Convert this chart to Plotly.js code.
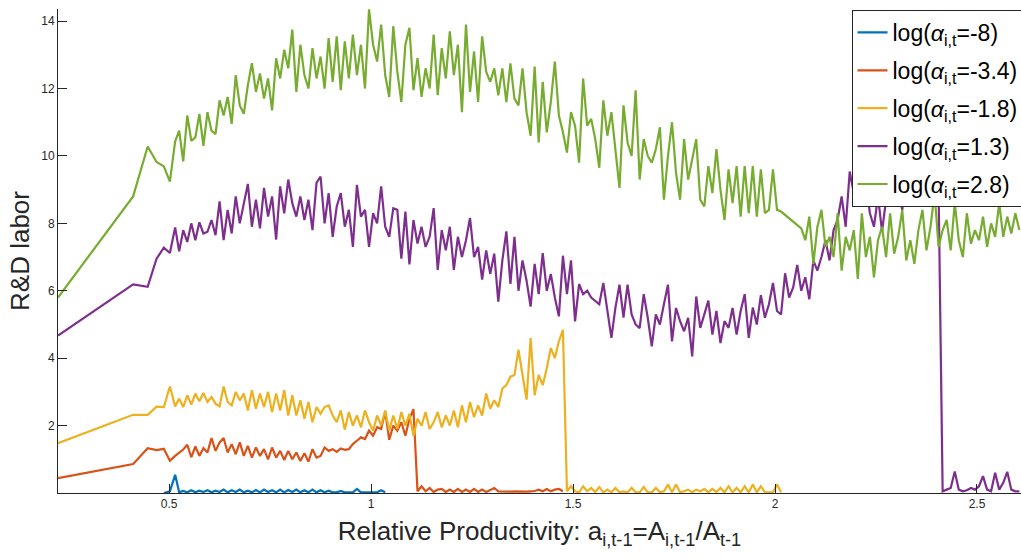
<!DOCTYPE html>
<html>
<head>
<meta charset="utf-8">
<script src="https://cdn.plot.ly/plotly-3.0.1.min.js"></script>
<style>html,body{margin:0;padding:0;background:#fff;}#chart{width:1021px;height:559px;}</style>
</head>
<body>
<div id="chart"></div>
<script>
// Shared x grid (relative productivity)
const xGrid = [
  0.225, 0.411, 0.447, 0.469, 0.487, 0.502,
  0.515, 0.525, 0.535, 0.545, 0.555, 0.565, 0.575, 0.585, 0.595, 0.605,
  0.615, 0.625, 0.635, 0.645, 0.655, 0.665, 0.675, 0.685, 0.695, 0.705,
  0.715, 0.725, 0.735, 0.745, 0.755, 0.765, 0.775, 0.785, 0.795, 0.805,
  0.815, 0.825, 0.835, 0.845, 0.855, 0.865, 0.875, 0.885, 0.895, 0.905,
  0.915, 0.925, 0.935, 0.945, 0.955, 0.965, 0.975, 0.985, 0.995, 1.005,
  1.015, 1.025, 1.035, 1.045, 1.055, 1.065, 1.075, 1.085, 1.095, 1.105,
  1.115, 1.125, 1.135, 1.145, 1.155, 1.165, 1.175, 1.185, 1.195, 1.205,
  1.215, 1.225, 1.235, 1.245, 1.255, 1.265, 1.275, 1.285, 1.295, 1.305,
  1.315, 1.325, 1.335, 1.345, 1.355, 1.365, 1.375, 1.385, 1.395, 1.405,
  1.415, 1.425, 1.435, 1.445, 1.455, 1.465, 1.475, 1.485, 1.495, 1.505,
  1.515, 1.525, 1.535, 1.545, 1.555, 1.565, 1.575, 1.585, 1.595, 1.605,
  1.615, 1.625, 1.635, 1.645, 1.655, 1.665, 1.675, 1.685, 1.695, 1.705,
  1.715, 1.725, 1.735, 1.745, 1.755, 1.765, 1.775, 1.785, 1.795, 1.805,
  1.815, 1.825, 1.835, 1.845, 1.855, 1.865, 1.875, 1.885, 1.895, 1.905,
  1.915, 1.925, 1.935, 1.945, 1.955, 1.965, 1.975, 1.985, 1.995, 2.005,
  2.015, 2.025, 2.035, 2.045, 2.055, 2.065, 2.075, 2.085, 2.095, 2.105,
  2.115, 2.125, 2.135, 2.145, 2.155, 2.165, 2.175, 2.185, 2.195, 2.205,
  2.215, 2.225, 2.235, 2.245, 2.255, 2.265, 2.275, 2.285, 2.295, 2.305,
  2.315, 2.325, 2.335, 2.345, 2.355, 2.365, 2.375, 2.385, 2.395, 2.405,
  2.415, 2.425, 2.435, 2.445, 2.455, 2.465, 2.475, 2.485, 2.495, 2.505,
  2.515, 2.525, 2.535, 2.545, 2.555, 2.565, 2.575, 2.585, 2.595, 2.605
];

// log(alpha) = -8 : starts at xGrid index 4
const blueStart = 4;
const blueY = [
  0.0, 0.05,
  0.54, 0.02, 0.06, 0.02, 0.08, 0.02, 0.07, 0.03, 0.08, 0.02,
  0.07, 0.03, 0.10, 0.02, 0.08, 0.03, 0.10, 0.02, 0.07, 0.02,
  0.09, 0.02, 0.10, 0.03, 0.08, 0.02, 0.10, 0.02, 0.09, 0.03,
  0.10, 0.02, 0.08, 0.02, 0.10, 0.02, 0.08, 0.02, 0.07, 0.02,
  0.02, 0.06, 0.02, 0.02, 0.02, 0.12, 0.02, 0.02, 0.02, 0.02,
  0.02, 0.08, 0.02
];

// log(alpha) = -3.4
const orangeStart = 0;
const orangeY = [
  0.44, 0.86, 1.33, 1.27, 1.31, 0.96,
  1.10, 1.20, 1.29, 1.43, 1.06, 1.38, 1.10, 1.33, 1.20, 1.63,
  1.25, 1.50, 1.63, 1.20, 1.45, 1.15, 1.50, 1.10, 1.40, 1.05,
  1.35, 1.10, 1.30, 1.00, 1.35, 1.05, 1.25, 0.98, 1.25, 1.00,
  1.20, 0.95, 1.18, 0.93, 1.30, 1.05, 1.10, 1.35, 1.25, 1.30,
  1.22, 1.32, 1.28, 1.30, 1.45, 1.55, 1.65, 1.60, 1.85, 1.70,
  1.95, 1.90, 2.42, 1.58, 2.00, 1.85, 2.10, 1.70, 2.20, 2.49,
  0.05, 0.20, 0.05, 0.15, 0.03, 0.10, 0.12, 0.03, 0.10, 0.03,
  0.12, 0.03, 0.10, 0.03, 0.12, 0.03, 0.10, 0.03, 0.10, 0.15,
  0.05, 0.04, 0.05, 0.04, 0.05, 0.04, 0.05, 0.04, 0.05, 0.06,
  0.10, 0.05, 0.12, 0.05, 0.10, 0.12, 0.05
];

// log(alpha) = -1.8
const yellowStart = 0;
const yellowY = [
  1.48, 2.32, 2.32, 2.56, 2.55, 3.16,
  2.57, 2.80, 2.55, 2.90, 2.62, 2.95, 2.72, 2.97, 2.70, 2.85,
  2.65, 2.57, 3.16, 2.70, 2.60, 3.00, 2.75, 2.95, 2.45, 3.05,
  2.50, 2.95, 2.55, 3.00, 2.40, 2.95, 2.45, 3.05, 2.30, 2.90,
  2.30, 2.75, 2.20, 2.70, 2.10, 2.55, 2.35, 2.55, 2.60, 2.30,
  2.10, 2.45, 1.88, 2.40, 2.00, 2.30, 1.95, 2.45, 2.10, 1.85,
  2.30, 2.00, 2.45, 1.85, 2.30, 1.90, 2.40, 2.00, 2.35, 1.70,
  2.20, 2.00, 2.40, 1.90, 2.10, 2.40, 1.95, 2.30, 2.00, 2.45,
  1.95, 2.60, 2.10, 2.70, 2.25, 2.60, 2.30, 2.95, 2.50, 2.75,
  2.55, 3.10, 3.20, 3.45, 3.50, 4.25, 3.50, 2.77, 4.60, 2.90,
  3.50, 3.20, 3.70, 4.30, 4.00, 4.50, 4.84, 0.05, 0.20, 0.05,
  0.02, 0.20, 0.05, 0.15, 0.03, 0.18, 0.02, 0.10, 0.02, 0.15,
  0.02, 0.05, 0.02, 0.15, 0.02, 0.02, 0.18, 0.02, 0.02, 0.15,
  0.02, 0.05, 0.25, 0.02, 0.25, 0.02, 0.05, 0.10, 0.02, 0.10,
  0.05, 0.12, 0.02, 0.12, 0.03, 0.15, 0.02, 0.20, 0.02, 0.15,
  0.02, 0.20, 0.02, 0.25, 0.02, 0.20, 0.02, 0.03, 0.02, 0.25,
  0.02
];

// log(alpha) = 1.3
const purpleStart = 0;
const purpleY = [
  4.67, 6.19, 6.12, 6.95, 7.28, 7.12,
  7.88, 7.17, 7.80, 7.45, 8.00, 7.50, 8.03, 7.70, 7.75, 8.10,
  7.65, 8.65, 7.50, 8.40, 7.70, 8.80, 8.00, 8.60, 9.17, 7.90,
  8.70, 7.85, 9.05, 8.20, 8.80, 7.52, 9.10, 8.30, 9.30, 8.60,
  8.20, 8.80, 8.10, 8.70, 7.80, 9.20, 9.39, 8.00, 8.90, 7.60,
  8.50, 8.90, 7.90, 8.40, 7.30, 9.14, 8.20, 8.40, 7.30, 8.30,
  8.00, 9.10, 7.90, 7.60, 8.45, 8.40, 6.95, 8.35, 6.78, 8.10,
  7.40, 7.90, 7.30, 7.60, 8.45, 6.62, 7.80, 7.20, 7.90, 6.62,
  7.60, 7.00, 7.50, 8.16, 7.00, 7.30, 6.33, 7.20, 6.50, 7.10,
  5.68, 6.90, 7.76, 6.20, 7.60, 6.00, 6.90, 6.30, 5.53, 6.80,
  5.90, 7.12, 6.00, 6.50, 5.80, 5.24, 7.04, 5.90, 6.90, 5.09,
  6.20, 5.90, 6.00, 5.80, 5.70, 5.60, 6.23, 5.40, 4.60, 5.50,
  6.18, 5.20, 6.18, 5.30, 5.00, 4.89, 5.90, 5.20, 4.35, 5.30,
  5.00, 5.60, 6.18, 4.50, 5.49, 5.10, 4.80, 5.20, 4.05, 5.83,
  4.90, 5.30, 5.71, 4.70, 5.40, 4.45, 5.10, 4.90, 5.49, 4.70,
  5.40, 5.90, 4.60, 5.50, 5.00, 5.87, 5.20, 5.60, 6.23, 5.40,
  5.30, 6.52, 5.80, 6.10, 6.77, 6.00, 6.40, 5.75, 6.90, 6.60,
  7.00, 7.50, 6.90, 7.80, 8.10, 8.80, 7.90, 9.54, 8.90, 9.10,
  8.60, 9.20, 8.30, 7.90, 8.80, 7.76, 8.70, 9.30, 8.60, 9.00,
  8.40, 9.40, 8.70, 9.10, 8.50, 9.30, 8.80, 9.20, 8.70, 9.00,
  0.05, 0.10, 0.15, 0.64, 0.10, 0.05, 0.08, 0.15, 0.10, 0.20,
  0.50, 0.10, 0.05, 0.60, 0.10, 0.30, 0.63, 0.10, 0.05, 0.05
];

// log(alpha) = 2.8
const greenStart = 0;
const greenY = [
  5.80, 8.80, 10.28, 9.82, 9.69, 9.24,
  10.43, 10.75, 9.84, 11.20, 10.45, 10.55, 11.25, 10.30, 11.30, 10.75,
  10.65, 11.65, 11.20, 11.75, 10.95, 12.40, 11.50, 11.25, 12.10, 12.75,
  11.90, 12.45, 11.70, 12.30, 11.35, 12.90, 12.30, 13.15, 12.60, 13.75,
  11.90, 13.30, 12.40, 12.00, 13.20, 12.30, 12.95, 12.00, 13.50, 12.20,
  13.55, 11.95, 13.40, 12.30, 13.60, 12.40, 13.30, 12.00, 14.35, 13.30,
  12.80, 13.90, 12.40, 11.75, 13.85, 12.50, 11.60, 13.30, 13.80, 11.95,
  12.90, 11.75, 12.60, 12.00, 13.60, 11.80, 13.20, 12.30, 13.70, 12.40,
  13.30, 11.30, 13.90, 11.90, 13.10, 11.60, 13.55, 12.50, 12.20, 12.60,
  11.80, 12.60, 11.60, 12.75, 11.70, 11.50, 12.60, 11.30, 10.60, 12.65,
  10.40, 12.20, 10.70, 11.60, 12.80, 11.20, 10.70, 10.10, 11.30, 10.90,
  9.80, 12.30, 10.90, 11.10, 10.50, 9.65, 11.65, 10.60, 11.30, 10.20,
  9.05, 11.50, 10.40, 10.00, 11.95, 9.30, 10.50, 10.00, 9.80, 10.20,
  10.85, 8.70, 10.00, 11.00, 9.50, 8.70, 10.50, 9.30, 9.90, 10.50,
  8.70, 8.50, 9.70, 8.90, 10.20, 9.00, 8.10, 9.60, 8.60, 9.70,
  8.20, 9.70, 8.30, 9.70, 8.20, 9.60, 8.30, 8.40, 9.60, 8.40,
  8.35, 8.25, 8.15, 8.05, 7.95, 7.85, 7.50, 8.20, 6.80, 7.90,
  8.40, 7.30, 7.60, 7.00, 8.30, 6.60, 7.60, 7.20, 7.80, 6.35,
  8.30, 7.00, 7.60, 6.40, 7.50, 7.90, 7.00, 8.30, 7.10, 7.60,
  8.40, 6.90, 7.50, 6.80, 7.80, 8.40, 7.20, 7.90, 8.90, 7.30,
  7.80, 8.10, 7.20, 8.60, 7.50, 7.00, 8.30, 7.40, 7.80, 7.50,
  8.20, 7.30, 8.00, 7.60, 8.60, 7.60, 8.20, 7.70, 8.30, 7.80
];

const seriesNames = [
  'log(<i>α</i><sub>i,t</sub>=-8)',
  'log(<i>α</i><sub>i,t</sub>=-3.4)',
  'log(<i>α</i><sub>i,t</sub>=-1.8)',
  'log(<i>α</i><sub>i,t</sub>=1.3)',
  'log(<i>α</i><sub>i,t</sub>=2.8)'
];
const seriesColors = ['#0072BD', '#D95319', '#EDB120', '#7E2F8E', '#77AC30'];

const xTickVals = [0.5, 1, 1.5, 2, 2.5];
const xTickText = ['0.5', '1', '1.5', '2', '2.5'];
const yTickVals = [2, 4, 6, 8, 10, 12, 14];
const yTickText = ['2', '4', '6', '8', '10', '12', '14'];

function mk(i, y, start) {
  return {
    x: xGrid.slice(start, start + y.length),
    y: y,
    type: 'scatter',
    mode: 'lines',
    name: seriesNames[i],
    legendgroup: 'g' + i,
    line: {color: seriesColors[i], width: 2.2}
  };
}

const data = [
  mk(0, blueY, blueStart),
  mk(1, orangeY, orangeStart),
  mk(2, yellowY, yellowStart),
  mk(3, purpleY, purpleStart),
  mk(4, greenY, greenStart)
];

const FONT = 'Liberation Sans, Arial, Helvetica, sans-serif';
const INK = '#262626';

const layout = {
  width: 1021,
  height: 559,
  margin: {l: 58, r: 0, t: 9, b: 66, autoexpand: false},
  paper_bgcolor: '#ffffff',
  plot_bgcolor: '#ffffff',
  font: {family: FONT, color: INK},
  showlegend: true,
  xaxis: {
    range: [0.225, 2.609],
    tickvals: xTickVals,
    ticktext: xTickText,
    ticks: 'inside',
    ticklen: 9,
    tickwidth: 1,
    tickcolor: INK,
    showline: true,
    linecolor: INK,
    linewidth: 1,
    showgrid: false,
    zeroline: false,
    tickfont: {family: FONT, size: 12, color: INK},
    title: {
      text: 'Relative Productivity: a<sub>i,t-1</sub>=A<sub>i,t-1</sub>/A<sub>t-1</sub>',
      font: {family: FONT, size: 26, color: INK},
      standoff: 11
    }
  },
  yaxis: {
    range: [0, 14.36],
    tickvals: yTickVals,
    ticktext: yTickText,
    ticks: 'inside',
    ticklen: 9,
    tickwidth: 1,
    tickcolor: INK,
    showline: true,
    linecolor: INK,
    linewidth: 1,
    showgrid: false,
    zeroline: false,
    tickfont: {family: FONT, size: 12, color: INK},
    title: {
      text: 'R&D labor',
      font: {family: FONT, size: 26, color: INK},
      standoff: 4
    }
  },
  legend: {
    x: 0.824,
    y: 0.998,
    xanchor: 'left',
    yanchor: 'top',
    bgcolor: '#ffffff',
    bordercolor: INK,
    borderwidth: 1,
    font: {family: FONT, size: 23, color: '#000000'},
    tracegroupgap: 5,
    itemwidth: 30
  }
};

Plotly.newPlot('chart', data, layout, {staticPlot: true, displayModeBar: false});
</script>
</body>
</html>
